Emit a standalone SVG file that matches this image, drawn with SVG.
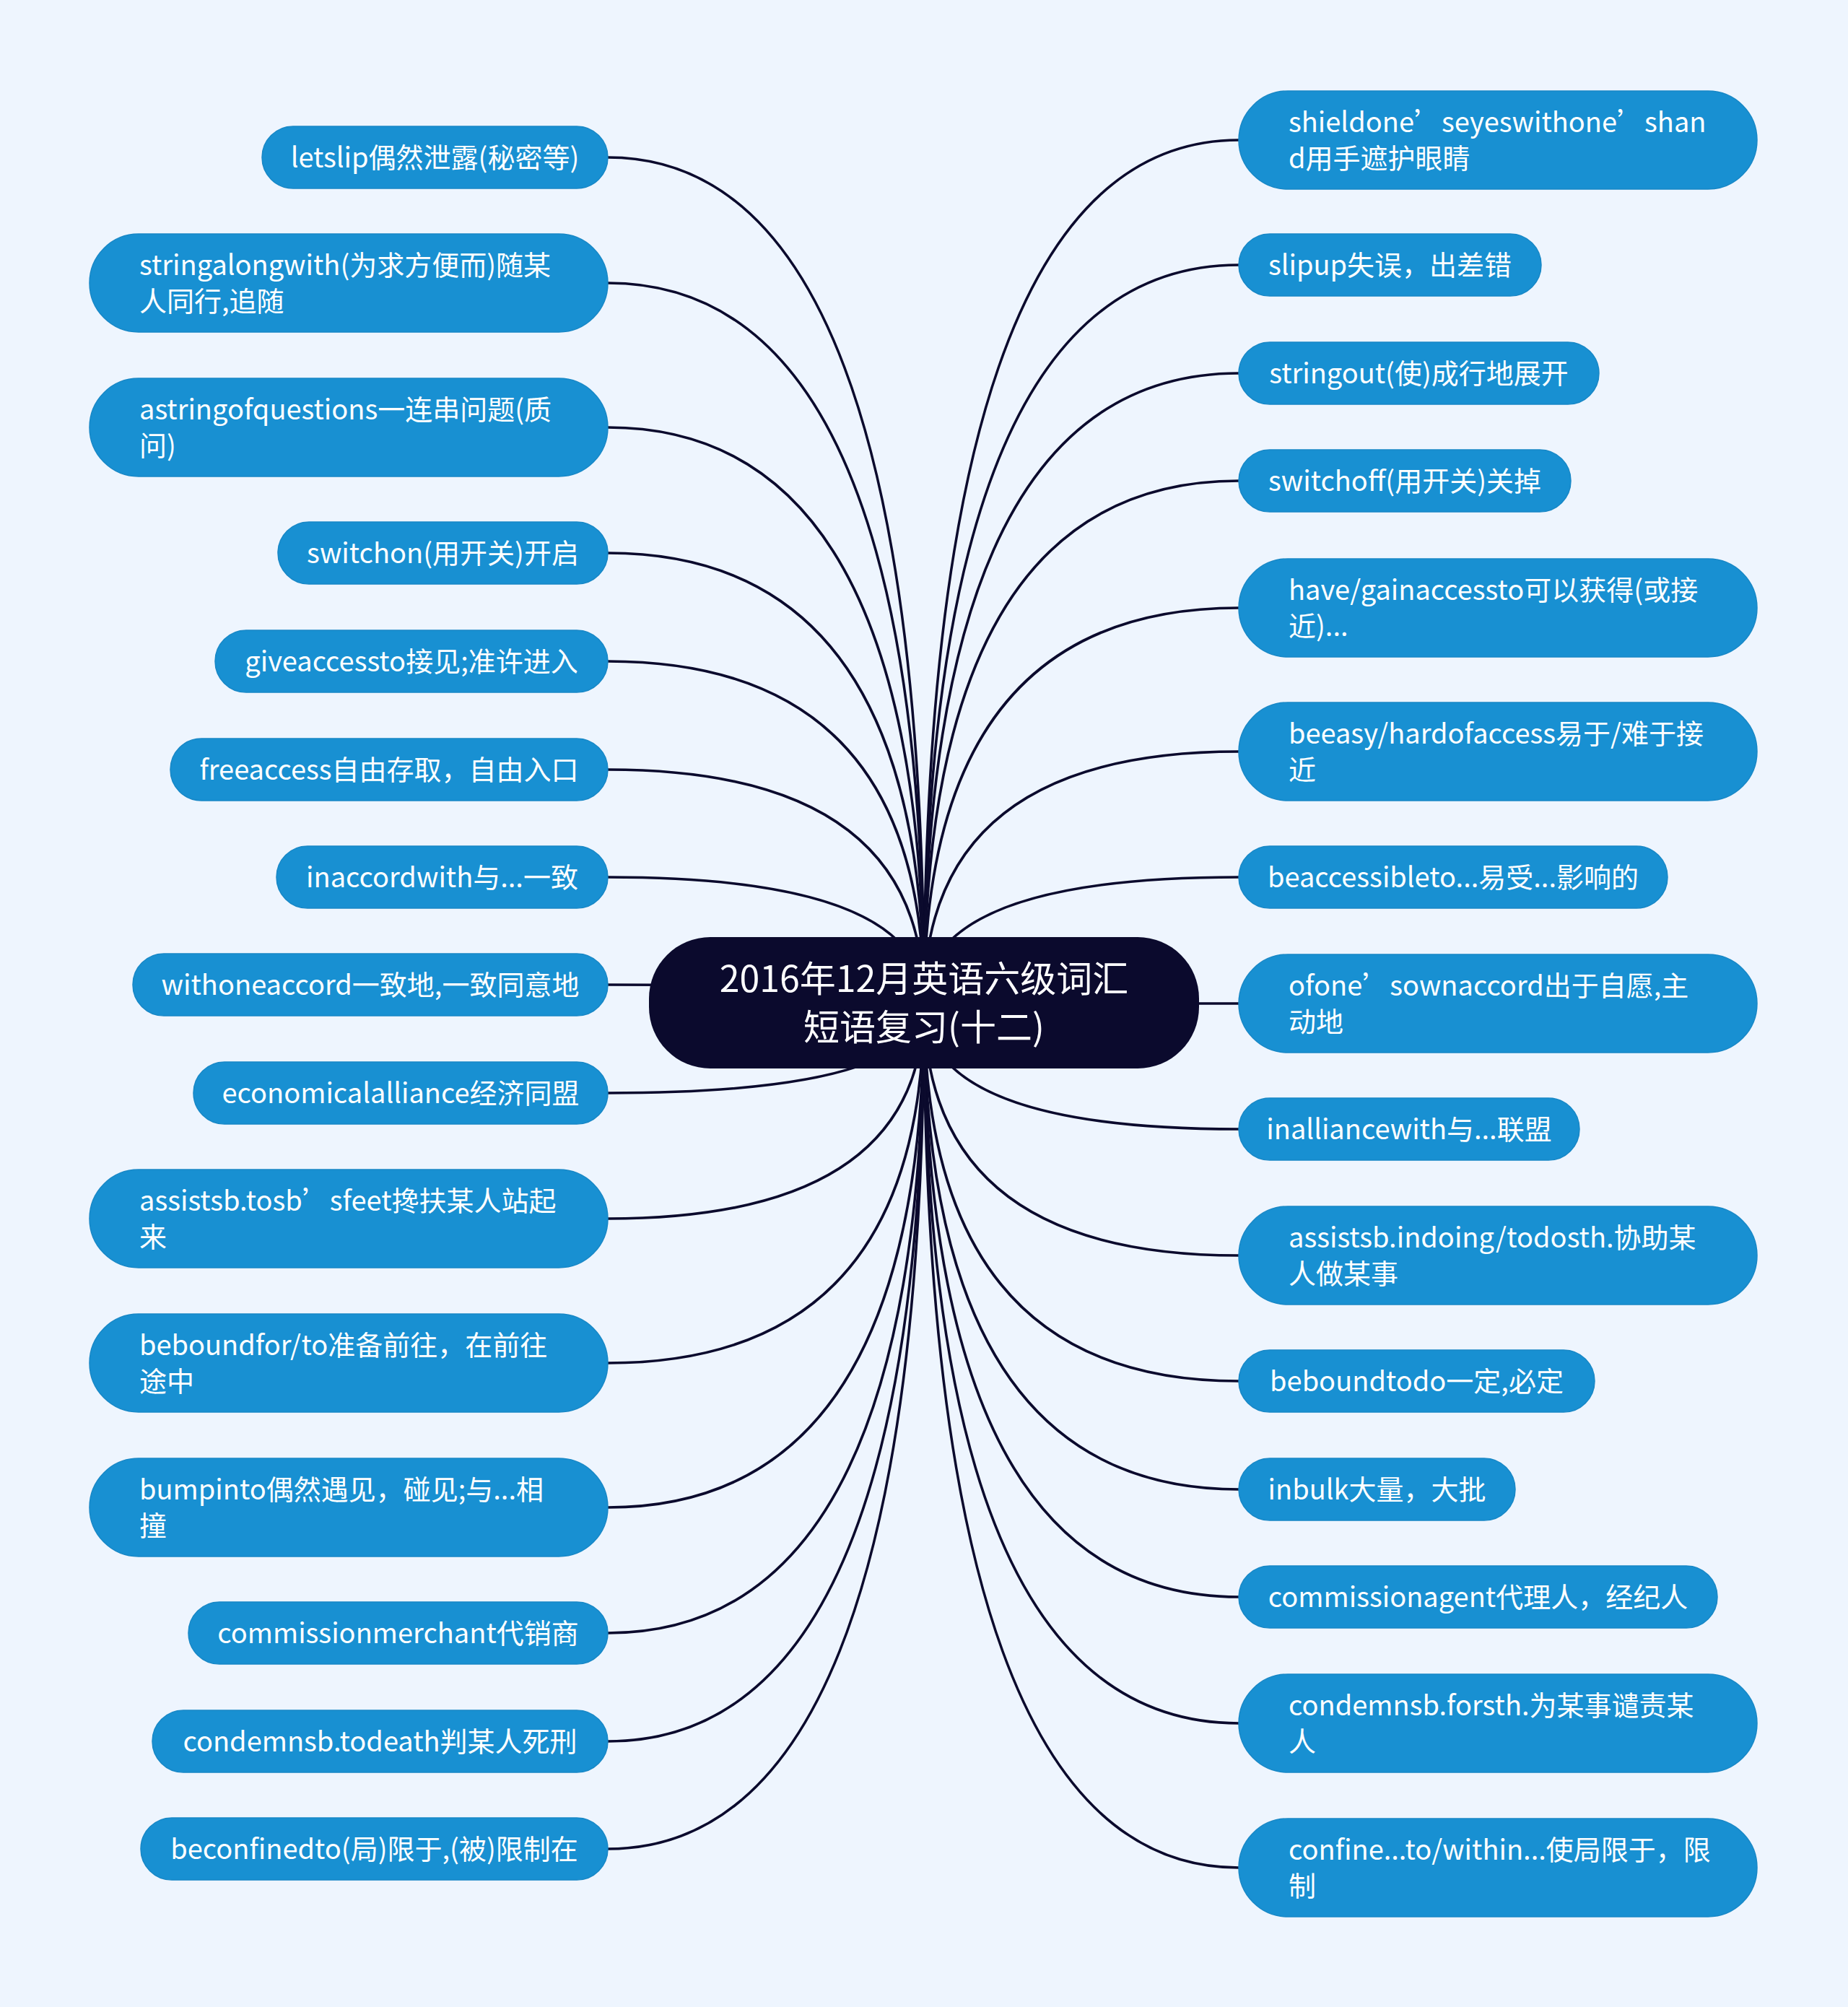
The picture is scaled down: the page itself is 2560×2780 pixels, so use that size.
<svg xmlns="http://www.w3.org/2000/svg" width="2560" height="2780" viewBox="0 0 2560 2780">
<style>
.bg{fill:#EEF5FE}
.leaf{fill:#1890D2;stroke:#1787C6;stroke-width:1.5}
.root{fill:#0B0A2D}
.lt{font-family:"Noto Sans CJK SC","Noto Sans",sans-serif;font-size:38px;fill:#FFFFFF}
.c{text-anchor:middle}
.rt{font-family:"Noto Sans CJK SC","Noto Sans",sans-serif;font-size:50px;fill:#FFFFFF;text-anchor:middle}
.ln{fill:none;stroke:#0B0A2D;stroke-width:3.6}
</style>
<rect class="bg" x="0" y="0" width="2560" height="2780"/>
<g id="connectors">
<path class="ln" d="M842 218 Q1280 218 1280 1389"/>
<path class="ln" d="M842 392 Q1280 392 1280 1389"/>
<path class="ln" d="M842 592 Q1280 592 1280 1389"/>
<path class="ln" d="M842 766 Q1280 766 1280 1389"/>
<path class="ln" d="M842 916 Q1280 916 1280 1389"/>
<path class="ln" d="M842 1066 Q1280 1066 1280 1389"/>
<path class="ln" d="M842 1215 Q1280 1215 1280 1389"/>
<path class="ln" d="M842 1364 Q1280 1364 1280 1389"/>
<path class="ln" d="M842 1514 Q1280 1514 1280 1389"/>
<path class="ln" d="M842 1688 Q1280 1688 1280 1389"/>
<path class="ln" d="M842 1888 Q1280 1888 1280 1389"/>
<path class="ln" d="M842 2088 Q1280 2088 1280 1389"/>
<path class="ln" d="M842 2262 Q1280 2262 1280 1389"/>
<path class="ln" d="M842 2412 Q1280 2412 1280 1389"/>
<path class="ln" d="M842 2561 Q1280 2561 1280 1389"/>
<path class="ln" d="M1716 194 Q1280 194 1280 1389"/>
<path class="ln" d="M1716 367 Q1280 367 1280 1389"/>
<path class="ln" d="M1716 517 Q1280 517 1280 1389"/>
<path class="ln" d="M1716 666 Q1280 666 1280 1389"/>
<path class="ln" d="M1716 842 Q1280 842 1280 1389"/>
<path class="ln" d="M1716 1041 Q1280 1041 1280 1389"/>
<path class="ln" d="M1716 1215 Q1280 1215 1280 1389"/>
<path class="ln" d="M1716 1390 Q1280 1390 1280 1389"/>
<path class="ln" d="M1716 1564 Q1280 1564 1280 1389"/>
<path class="ln" d="M1716 1739 Q1280 1739 1280 1389"/>
<path class="ln" d="M1716 1913 Q1280 1913 1280 1389"/>
<path class="ln" d="M1716 2063 Q1280 2063 1280 1389"/>
<path class="ln" d="M1716 2212 Q1280 2212 1280 1389"/>
<path class="ln" d="M1716 2387 Q1280 2387 1280 1389"/>
<path class="ln" d="M1716 2587 Q1280 2587 1280 1389"/>
</g>
<g id="root">
<rect class="root" x="899" y="1298" width="762" height="182" rx="85" ry="85"/>
<text class="rt" x="1280" y="1374">2016年12月英语六级词汇</text>
<text class="rt" x="1280" y="1441">短语复习(十二)</text>
</g>
<g id="L1"><rect class="leaf" x="363" y="175" width="479" height="86" rx="43"/><text class="lt c" x="602.5" y="232">letslip偶然泄露(秘密等)</text></g>
<g id="L2"><rect class="leaf" x="124" y="324" width="718" height="136" rx="68"/><text class="lt" x="193" y="381">stringalongwith(为求方便而)随某</text><text class="lt" x="193" y="431">人同行,追随</text></g>
<g id="L3"><rect class="leaf" x="124" y="524" width="718" height="136" rx="68"/><text class="lt" x="193" y="581">astringofquestions一连串问题(质</text><text class="lt" x="193" y="631">问)</text></g>
<g id="L4"><rect class="leaf" x="385" y="723" width="457" height="86" rx="43"/><text class="lt c" x="613.5" y="780">switchon(用开关)开启</text></g>
<g id="L5"><rect class="leaf" x="298" y="873" width="544" height="86" rx="43"/><text class="lt c" x="570" y="930">giveaccessto接见;准许进入</text></g>
<g id="L6"><rect class="leaf" x="236" y="1023" width="606" height="86" rx="43"/><text class="lt c" x="539" y="1080">freeaccess自由存取，自由入口</text></g>
<g id="L7"><rect class="leaf" x="383" y="1172" width="459" height="86" rx="43"/><text class="lt c" x="612.5" y="1229">inaccordwith与...一致</text></g>
<g id="L8"><rect class="leaf" x="184" y="1321" width="658" height="86" rx="43"/><text class="lt c" x="513" y="1378">withoneaccord一致地,一致同意地</text></g>
<g id="L9"><rect class="leaf" x="268" y="1471" width="574" height="86" rx="43"/><text class="lt c" x="555" y="1528">economicalalliance经济同盟</text></g>
<g id="L10"><rect class="leaf" x="124" y="1620" width="718" height="136" rx="68"/><text class="lt" x="193" y="1677">assistsb.tosb’sfeet搀扶某人站起</text><text class="lt" x="193" y="1727">来</text></g>
<g id="L11"><rect class="leaf" x="124" y="1820" width="718" height="136" rx="68"/><text class="lt" x="193" y="1877">beboundfor/to准备前往，在前往</text><text class="lt" x="193" y="1927">途中</text></g>
<g id="L12"><rect class="leaf" x="124" y="2020" width="718" height="136" rx="68"/><text class="lt" x="193" y="2077">bumpinto偶然遇见，碰见;与...相</text><text class="lt" x="193" y="2127">撞</text></g>
<g id="L13"><rect class="leaf" x="261" y="2219" width="581" height="86" rx="43"/><text class="lt c" x="551.5" y="2276">commissionmerchant代销商</text></g>
<g id="L14"><rect class="leaf" x="211" y="2369" width="631" height="86" rx="43"/><text class="lt c" x="526.5" y="2426">condemnsb.todeath判某人死刑</text></g>
<g id="L15"><rect class="leaf" x="195" y="2518" width="647" height="86" rx="43"/><text class="lt c" x="518.5" y="2575">beconfinedto(局)限于,(被)限制在</text></g>
<g id="R1"><rect class="leaf" x="1716" y="126" width="718" height="136" rx="68"/><text class="lt" x="1785" y="183">shieldone’seyeswithone’shan</text><text class="lt" x="1785" y="233">d用手遮护眼睛</text></g>
<g id="R2"><rect class="leaf" x="1716" y="324" width="419" height="86" rx="43"/><text class="lt c" x="1925.5" y="381">slipup失误，出差错</text></g>
<g id="R3"><rect class="leaf" x="1716" y="474" width="499" height="86" rx="43"/><text class="lt c" x="1965.5" y="531">stringout(使)成行地展开</text></g>
<g id="R4"><rect class="leaf" x="1716" y="623" width="460" height="86" rx="43"/><text class="lt c" x="1946" y="680">switchoff(用开关)关掉</text></g>
<g id="R5"><rect class="leaf" x="1716" y="774" width="718" height="136" rx="68"/><text class="lt" x="1785" y="831">have/gainaccessto可以获得(或接</text><text class="lt" x="1785" y="881">近)...</text></g>
<g id="R6"><rect class="leaf" x="1716" y="973" width="718" height="136" rx="68"/><text class="lt" x="1785" y="1030">beeasy/hardofaccess易于/难于接</text><text class="lt" x="1785" y="1080">近</text></g>
<g id="R7"><rect class="leaf" x="1716" y="1172" width="594" height="86" rx="43"/><text class="lt c" x="2013" y="1229">beaccessibleto...易受...影响的</text></g>
<g id="R8"><rect class="leaf" x="1716" y="1322" width="718" height="136" rx="68"/><text class="lt" x="1785" y="1379">ofone’sownaccord出于自愿,主</text><text class="lt" x="1785" y="1429">动地</text></g>
<g id="R9"><rect class="leaf" x="1716" y="1521" width="472" height="86" rx="43"/><text class="lt c" x="1952" y="1578">inalliancewith与...联盟</text></g>
<g id="R10"><rect class="leaf" x="1716" y="1671" width="718" height="136" rx="68"/><text class="lt" x="1785" y="1728">assistsb.indoing/todosth.协助某</text><text class="lt" x="1785" y="1778">人做某事</text></g>
<g id="R11"><rect class="leaf" x="1716" y="1870" width="493" height="86" rx="43"/><text class="lt c" x="1962.5" y="1927">beboundtodo一定,必定</text></g>
<g id="R12"><rect class="leaf" x="1716" y="2020" width="383" height="86" rx="43"/><text class="lt c" x="1907.5" y="2077">inbulk大量，大批</text></g>
<g id="R13"><rect class="leaf" x="1716" y="2169" width="663" height="86" rx="43"/><text class="lt c" x="2047.5" y="2226">commissionagent代理人，经纪人</text></g>
<g id="R14"><rect class="leaf" x="1716" y="2319" width="718" height="136" rx="68"/><text class="lt" x="1785" y="2376">condemnsb.forsth.为某事谴责某</text><text class="lt" x="1785" y="2426">人</text></g>
<g id="R15"><rect class="leaf" x="1716" y="2519" width="718" height="136" rx="68"/><text class="lt" x="1785" y="2576">confine...to/within...使局限于，限</text><text class="lt" x="1785" y="2626">制</text></g>
</svg>
